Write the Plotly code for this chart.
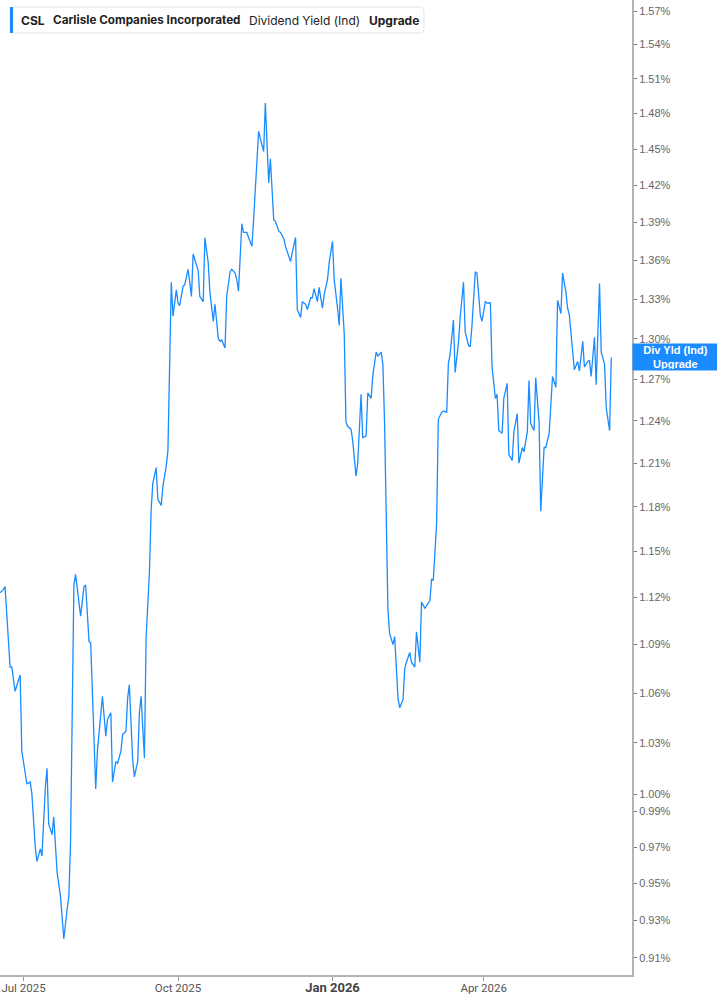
import numpy as np
import pandas as pd
import plotly.graph_objects as go

# ---------------- data ----------------
obs_dates = [
    "2025-06-17", "2025-06-19", "2025-06-20", "2025-06-23", "2025-06-24", "2025-06-26",
    "2025-06-28", "2025-06-29", "2025-06-30",
    "2025-07-02", "2025-07-03", "2025-07-05", "2025-07-06", "2025-07-08", "2025-07-09",
    "2025-07-11", "2025-07-12", "2025-07-14", "2025-07-15", "2025-07-16", "2025-07-18",
    "2025-07-19", "2025-07-21", "2025-07-23", "2025-07-24", "2025-07-25", "2025-07-27",
    "2025-07-28", "2025-07-29", "2025-07-31",
    "2025-08-01", "2025-08-03", "2025-08-04", "2025-08-06", "2025-08-07", "2025-08-09",
    "2025-08-10", "2025-08-12", "2025-08-13", "2025-08-14", "2025-08-16", "2025-08-17",
    "2025-08-19", "2025-08-20", "2025-08-22", "2025-08-23", "2025-08-25", "2025-08-26",
    "2025-08-28", "2025-08-29", "2025-08-31",
    "2025-09-01", "2025-09-02", "2025-09-04", "2025-09-05", "2025-09-07", "2025-09-08",
    "2025-09-09", "2025-09-11", "2025-09-12", "2025-09-14", "2025-09-15", "2025-09-16",
    "2025-09-18", "2025-09-19", "2025-09-21", "2025-09-22", "2025-09-24", "2025-09-25",
    "2025-09-27", "2025-09-28", "2025-09-30",
    "2025-10-01", "2025-10-02", "2025-10-04", "2025-10-05", "2025-10-07", "2025-10-09",
    "2025-10-10", "2025-10-11", "2025-10-13", "2025-10-14", "2025-10-16", "2025-10-17",
    "2025-10-19", "2025-10-20", "2025-10-22", "2025-10-23", "2025-10-25", "2025-10-26",
    "2025-10-27", "2025-10-29", "2025-10-30",
    "2025-11-01", "2025-11-02", "2025-11-04", "2025-11-05", "2025-11-06", "2025-11-08",
    "2025-11-09", "2025-11-11", "2025-11-12", "2025-11-14", "2025-11-15", "2025-11-17",
    "2025-11-18", "2025-11-19", "2025-11-21", "2025-11-22", "2025-11-24", "2025-11-25",
    "2025-11-27", "2025-11-28", "2025-11-30",
    "2025-12-01", "2025-12-03", "2025-12-04", "2025-12-06", "2025-12-07", "2025-12-08",
    "2025-12-10", "2025-12-11", "2025-12-13", "2025-12-14", "2025-12-16", "2025-12-17",
    "2025-12-19", "2025-12-20", "2025-12-21", "2025-12-23", "2025-12-24", "2025-12-26",
    "2025-12-27", "2025-12-29", "2025-12-30",
    "2026-01-01", "2026-01-02", "2026-01-04", "2026-01-05", "2026-01-06", "2026-01-08",
    "2026-01-09", "2026-01-10", "2026-01-12", "2026-01-13", "2026-01-15", "2026-01-16",
    "2026-01-18", "2026-01-19", "2026-01-21", "2026-01-22", "2026-01-24", "2026-01-25",
    "2026-01-27", "2026-01-28", "2026-01-30", "2026-01-31",
    "2026-02-01", "2026-02-03", "2026-02-04", "2026-02-06", "2026-02-07", "2026-02-09",
    "2026-02-10", "2026-02-12", "2026-02-13", "2026-02-14", "2026-02-16", "2026-02-17",
    "2026-02-19", "2026-02-20", "2026-02-22", "2026-02-23", "2026-02-25", "2026-02-26",
    "2026-02-28",
    "2026-03-01", "2026-03-02", "2026-03-04", "2026-03-05", "2026-03-07", "2026-03-08",
    "2026-03-10", "2026-03-11", "2026-03-12", "2026-03-14", "2026-03-15", "2026-03-17",
    "2026-03-18", "2026-03-20", "2026-03-21", "2026-03-23", "2026-03-24", "2026-03-25",
    "2026-03-27", "2026-03-28", "2026-03-30", "2026-03-31",
    "2026-04-02", "2026-04-03", "2026-04-05", "2026-04-06", "2026-04-08", "2026-04-09",
    "2026-04-10", "2026-04-12", "2026-04-13", "2026-04-15", "2026-04-16", "2026-04-18",
    "2026-04-19", "2026-04-21", "2026-04-22", "2026-04-24", "2026-04-25", "2026-04-27",
    "2026-04-28", "2026-04-29",
    "2026-05-01", "2026-05-02", "2026-05-04", "2026-05-05", "2026-05-07", "2026-05-08",
    "2026-05-10", "2026-05-11", "2026-05-12", "2026-05-14", "2026-05-15", "2026-05-17",
    "2026-05-18", "2026-05-20", "2026-05-21", "2026-05-22", "2026-05-24", "2026-05-25",
    "2026-05-27", "2026-05-28", "2026-05-30", "2026-05-31",
    "2026-06-02", "2026-06-03", "2026-06-04", "2026-06-06", "2026-06-07", "2026-06-09",
    "2026-06-10", "2026-06-12", "2026-06-13", "2026-06-15", "2026-06-16",
]

div_yield = [
    1.123, 1.125, 1.127, 1.076, 1.076, 1.061, 1.068, 1.071, 1.025, 1.011,
    1.006, 1.007, 1.000, 0.970, 0.962, 0.969, 0.965, 1.004, 1.015, 0.983,
    0.977, 0.987, 0.956, 0.943, 0.931, 0.920, 0.936, 0.943, 0.972, 1.128,
    1.135, 1.117, 1.108, 1.127, 1.128, 1.092, 1.091, 1.032, 1.003, 1.025,
    1.049, 1.058, 1.034, 1.044, 1.048, 1.007, 1.019, 1.018, 1.025, 1.035,
    1.037, 1.057, 1.065, 1.020, 1.010, 1.019, 1.048, 1.058, 1.021, 1.094,
    1.137, 1.178, 1.196, 1.207, 1.185, 1.181, 1.194, 1.208, 1.219, 1.343,
    1.317, 1.337, 1.327, 1.325, 1.340, 1.341, 1.353, 1.332, 1.365, 1.360,
    1.352, 1.332, 1.328, 1.378, 1.358, 1.335, 1.313, 1.326, 1.300, 1.298,
    1.299, 1.293, 1.332, 1.351, 1.353, 1.350, 1.345, 1.336, 1.389, 1.382,
    1.382, 1.378, 1.371, 1.392, 1.443, 1.465, 1.459, 1.448, 1.489, 1.422,
    1.442, 1.392, 1.391, 1.383, 1.382, 1.377, 1.371, 1.364, 1.359, 1.366,
    1.378, 1.322, 1.316, 1.328, 1.326, 1.322, 1.331, 1.331, 1.338, 1.328,
    1.339, 1.323, 1.333, 1.345, 1.358, 1.375, 1.345, 1.323, 1.310, 1.346,
    1.303, 1.239, 1.236, 1.234, 1.226, 1.201, 1.210, 1.259, 1.228, 1.229,
    1.260, 1.256, 1.273, 1.290, 1.287, 1.290, 1.281, 1.239, 1.112, 1.097,
    1.090, 1.095, 1.057, 1.051, 1.056, 1.075, 1.079, 1.085, 1.079, 1.076,
    1.098, 1.079, 1.117, 1.113, 1.115, 1.118, 1.132, 1.131, 1.169, 1.241,
    1.246, 1.247, 1.246, 1.282, 1.288, 1.314, 1.275, 1.297, 1.316, 1.343,
    1.305, 1.295, 1.294, 1.309, 1.351, 1.350, 1.318, 1.313, 1.328, 1.327,
    1.327, 1.279, 1.256, 1.259, 1.233, 1.231, 1.256, 1.267, 1.216, 1.212,
    1.232, 1.245, 1.210, 1.221, 1.218, 1.232, 1.269, 1.238, 1.233, 1.271,
    1.239, 1.177, 1.221, 1.221, 1.231, 1.250, 1.272, 1.264, 1.329, 1.319,
    1.350, 1.335, 1.323, 1.318, 1.286, 1.277, 1.283, 1.276, 1.298, 1.279,
    1.283, 1.284, 1.272, 1.301, 1.266, 1.342, 1.290, 1.281, 1.249, 1.233,
    1.286,
]

y_tick_vals = [0.91, 0.93, 0.95, 0.97, 0.99, 1.00, 1.03, 1.06, 1.09, 1.12, 1.15, 1.18, 1.21,
               1.24, 1.27, 1.30, 1.33, 1.36, 1.39, 1.42, 1.45, 1.48, 1.51, 1.54, 1.57]
y_tick_text = [f"{v:.2f}%" for v in y_tick_vals]

x_tick_vals = ["2025-07-01", "2025-10-01", "2026-01-01", "2026-04-01"]
x_tick_text = ["Jul 2025", "Oct 2025",
               "<b><span style='font-size:13px;color:#444'>Jan 2026</span></b>", "Apr 2026"]

legend_parts = [("CSL", True), ("Carlisle Companies Incorporated", True),
                ("Dividend Yield (Ind)", False), ("Upgrade", True)]
last_label = "Div Yld (Ind)<br>Upgrade"

dates = pd.to_datetime(obs_dates)

# ---------------- layout constants ----------------
W, H = 717, 1005
PLOT_W, PLOT_H = 632, 975
BLUE = "#1a8cff"


def px(x):
    return x / PLOT_W


def py(y):
    return 1 - y / PLOT_H


fig = go.Figure()
fig.add_trace(go.Scatter(x=dates, y=div_yield, mode="lines",
                         line=dict(color=BLUE, width=1.3), hoverinfo="skip",
                         showlegend=False))

fig.update_layout(
    width=W, height=H,
    margin=dict(l=0, r=W - PLOT_W, t=0, b=H - PLOT_H),
    paper_bgcolor="white", plot_bgcolor="white",
    showlegend=False,
    font=dict(family="Liberation Sans, Arial", color="#666"),
)

fig.update_xaxes(
    type="date",
    range=["2025-06-17", "2026-06-28 08:00"],
    tickvals=x_tick_vals, ticktext=x_tick_text,
    ticks="outside", ticklen=4, tickcolor="#999", tickwidth=1,
    ticklabelstandoff=-3,
    showline=True, linecolor="#b3b3b3", linewidth=2,
    showgrid=False, zeroline=False,
    tickfont=dict(family="Roboto, Liberation Sans", size=11.5, color="#555"),
)

fig.update_yaxes(
    type="log",
    range=[np.log10(0.9011), np.log10(1.580)],
    side="right",
    tickvals=y_tick_vals, ticktext=y_tick_text,
    ticks="outside", ticklen=3, tickcolor="#777", tickwidth=1,
    showline=True, linecolor="#b3b3b3", linewidth=2,
    showgrid=False, zeroline=False,
    tickfont=dict(family="Liberation Sans, Arial", size=11, color="#666"),
)

# legend box (rounded rectangle)
x0, x1, y0, y1, r = 10, 424, 7, 33, 4
path = (f"M {px(x0 + r)} {py(y0)} L {px(x1 - r)} {py(y0)} "
        f"Q {px(x1)} {py(y0)} {px(x1)} {py(y0 + r)} "
        f"L {px(x1)} {py(y1 - r)} Q {px(x1)} {py(y1)} {px(x1 - r)} {py(y1)} "
        f"L {px(x0 + r)} {py(y1)} Q {px(x0)} {py(y1)} {px(x0)} {py(y1 - r)} "
        f"L {px(x0)} {py(y0 + r)} Q {px(x0)} {py(y0)} {px(x0 + r)} {py(y0)} Z")
fig.add_shape(type="path", path=path, xref="paper", yref="paper",
              line=dict(color="#e6e6e6", width=1), fillcolor="white", layer="above")
fig.add_shape(type="rect", xref="paper", yref="paper",
              x0=px(10), x1=px(13), y0=py(33), y1=py(7),
              line=dict(width=0), fillcolor=BLUE, layer="above")

legend_x = [19, 51, 247, 367]
legend_size = [12, 11.7, 12, 12]
for (txt, bold), lx, fs in zip(legend_parts, legend_x, legend_size):
    fig.add_annotation(
        x=px(lx), y=py(20), xref="paper", yref="paper",
        xanchor="left", yanchor="middle", showarrow=False,
        text=f"<b>{txt}</b>" if bold else txt,
        font=dict(family="Inter, Liberation Sans", size=fs, color="#222"),
    )

# last value label on the right axis
fig.add_annotation(
    x=1, y=np.log10(div_yield[-1]), xref="paper", yref="y",
    xanchor="left", yanchor="middle", showarrow=False,
    text=f"<b>{last_label}</b>", align="center",
    width=83, height=24, borderpad=1,
    bgcolor=BLUE,
    font=dict(family="Liberation Sans, Arial", size=11, color="white"),
)

fig.write_html(
    "out.html",
    config={"displayModeBar": False},
    post_script="document.body.style.margin='0';document.body.style.overflow='hidden';",
)
